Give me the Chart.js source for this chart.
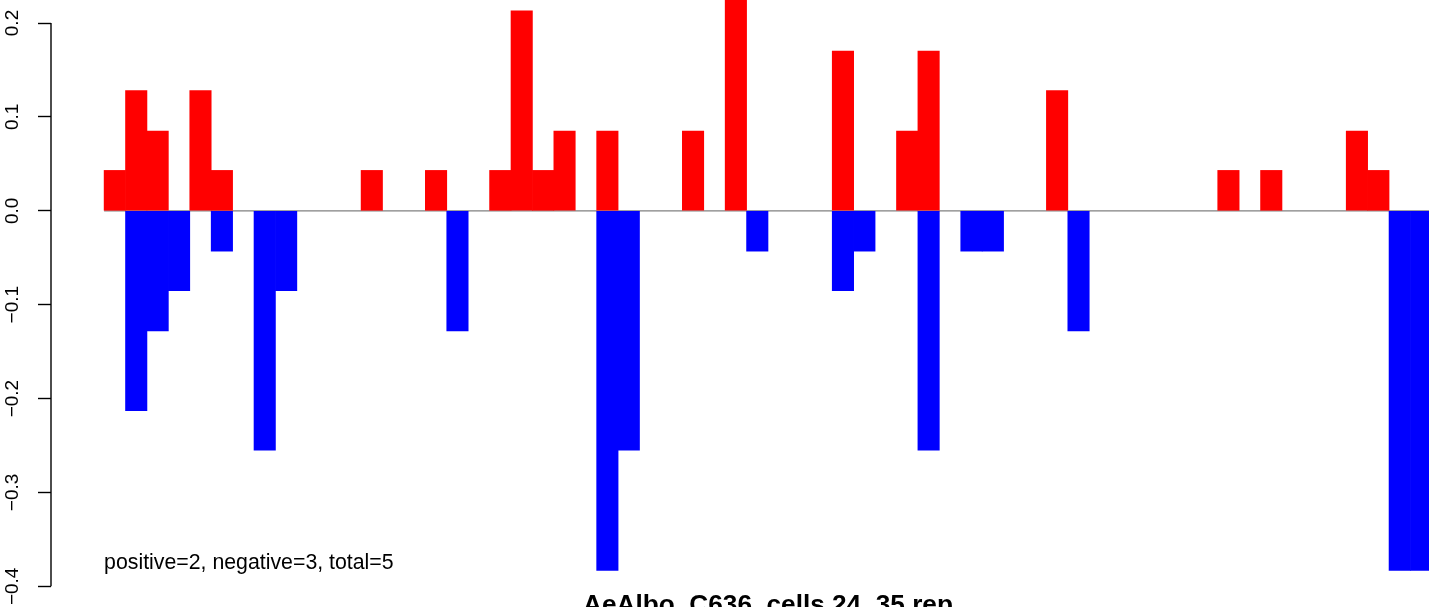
<!DOCTYPE html>
<html>
<head>
<meta charset="utf-8">
<title>AeAlbo_C636_cells 24_35 rep</title>
<script src="https://cdn.jsdelivr.net/npm/chart.js@4.4.1/dist/chart.umd.min.js"></script>
<style>
  html, body { margin: 0; padding: 0; background: #fff; overflow: hidden; }
  #wrap { position: relative; width: 1485px; height: 607px; }
</style>
</head>
<body>
<div id="wrap"><canvas id="chart"></canvas></div>
<script>
// bins along the x axis, one bar each (62 adjacent bars)
const bins = [
   1,  2,  3,  4,  5,  6,  7,  8,  9, 10,
  11, 12, 13, 14, 15, 16, 17, 18, 19, 20,
  21, 22, 23, 24, 25, 26, 27, 28, 29, 30,
  31, 32, 33, 34, 35, 36, 37, 38, 39, 40,
  41, 42, 43, 44, 45, 46, 47, 48, 49, 50,
  51, 52, 53, 54, 55, 56, 57, 58, 59, 60,
  61, 62
];

// red bars (positive)
const positive = [
  0.043, 0.128, 0.085, 0, 0.128, 0.043, 0, 0, 0, 0,
  0, 0, 0.043, 0, 0, 0.043, 0, 0, 0.043, 0.213,
  0.043, 0.085, 0, 0.085, 0, 0, 0, 0.085, 0, 0.255,
  0, 0, 0, 0, 0.170, 0, 0, 0.085, 0.170, 0,
  0, 0, 0, 0, 0.128, 0, 0, 0, 0, 0,
  0, 0, 0.043, 0, 0.043, 0, 0, 0, 0.085, 0.043,
  0, 0
];

// blue bars (negative)
const negative = [
  0, -0.213, -0.128, -0.085, 0, -0.043, 0, -0.255, -0.085, 0,
  0, 0, 0, 0, 0, 0, -0.128, 0, 0, 0,
  0, 0, 0, -0.383, -0.255, 0, 0, 0, 0, 0,
  -0.043, 0, 0, 0, -0.085, -0.043, 0, 0, -0.255, 0,
  -0.043, -0.043, 0, 0, 0, -0.128, 0, 0, 0, 0,
  0, 0, 0, 0, 0, 0, 0, 0, 0, 0,
  -0.383, -0.383
];

const yTicks = [-0.4, -0.3, -0.2, -0.1, 0.0, 0.1, 0.2];

const chartTitle = "AeAlbo_C636_cells 24_35 rep";
const note = "positive=2, negative=3, total=5";
const noteY = -0.375;

const FONT = '"Liberation Sans", Arial, Helvetica, sans-serif';

// R-like x range: bars plus 4% on each side
const pad = 0.04 * bins.length;
const xMin = bins[0] - 0.5 - pad;
const xMax = bins[bins.length - 1] + 0.5 + pad;

function minus(v) {
  return v.toFixed(1).replace('-', '\u2212');
}

// empty bins get no bar at all (a zero-height bar still leaves a hairline)
function toPoints(values) {
  return bins.map((b, i) => ({ x: b, y: values[i] === 0 ? null : values[i] }));
}

// axis line between outer ticks, the note and the bottom title
const rDecor = {
  id: 'rDecor',
  afterDatasetsDraw(chart) {
    const { ctx, chartArea, scales: { x, y } } = chart;
    ctx.save();
    ctx.strokeStyle = '#000';
    ctx.lineWidth = 1.4;
    ctx.beginPath();
    ctx.moveTo(y.right, y.getPixelForValue(yTicks[0]));
    ctx.lineTo(y.right, y.getPixelForValue(yTicks[yTicks.length - 1]));
    ctx.stroke();

    ctx.fillStyle = '#000';
    ctx.font = '21.3px ' + FONT;
    ctx.textAlign = 'left';
    ctx.textBaseline = 'middle';
    ctx.fillText(note, x.getPixelForValue(bins[0] - 0.5), y.getPixelForValue(noteY));

    ctx.font = 'bold 26.2px ' + FONT;
    ctx.textAlign = 'center';
    ctx.textBaseline = 'alphabetic';
    ctx.fillText(chartTitle, (chartArea.left + chartArea.right) / 2, chartArea.bottom + 6);
    ctx.restore();
  }
};

const ctx = document.getElementById('chart').getContext('2d');
const chart = new Chart(ctx, {
  type: 'bar',
  data: {
    datasets: [
      {
        label: 'positive',
        data: toPoints(positive),
        backgroundColor: '#FF0000',
        borderWidth: 0,
        barPercentage: 1,
        categoryPercentage: 1,
        order: 1
      },
      {
        label: 'negative',
        data: toPoints(negative),
        backgroundColor: '#0000FF',
        borderWidth: 0,
        barPercentage: 1,
        categoryPercentage: 1,
        order: 2
      },
      {
        type: 'line',
        label: 'zero',
        data: [
          { x: bins[0] - 0.5, y: 0 },
          { x: bins[bins.length - 1] + 0.5, y: 0 }
        ],
        borderColor: '#808080',
        borderWidth: 1.3,
        pointRadius: 0,
        fill: false,
        order: 3
      }
    ]
  },
  options: {
    responsive: true,
    maintainAspectRatio: false,
    animation: false,
    layout: { padding: 0 },
    plugins: {
      legend: { display: false },
      tooltip: { enabled: false },
      title: { display: false }
    },
    scales: {
      x: {
        type: 'linear',
        display: false,
        stacked: true,
        offset: false,
        min: xMin,
        max: xMax
      },
      y: {
        type: 'linear',
        position: 'left',
        min: -0.422,
        max: 0.2245,
        border: { display: false },
        grid: {
          drawOnChartArea: false,
          drawTicks: true,
          tickLength: 13,
          tickColor: '#000',
          tickWidth: 1.4
        },
        ticks: {
          autoSkip: false,
          minRotation: 90,
          maxRotation: 90,
          crossAlign: 'center',
          padding: 6,
          color: '#000',
          font: { family: FONT, size: 19 },
          callback: (v) => minus(v)
        },
        afterBuildTicks: (s) => {
          s.ticks = yTicks.map(v => ({ value: v }));
        },
        afterFit: (s) => {
          s.width = 51;
          s.paddingTop = 0;
          s.paddingBottom = 0;
        }
      }
    }
  },
  plugins: [rDecor]
});
</script>
</body>
</html>
